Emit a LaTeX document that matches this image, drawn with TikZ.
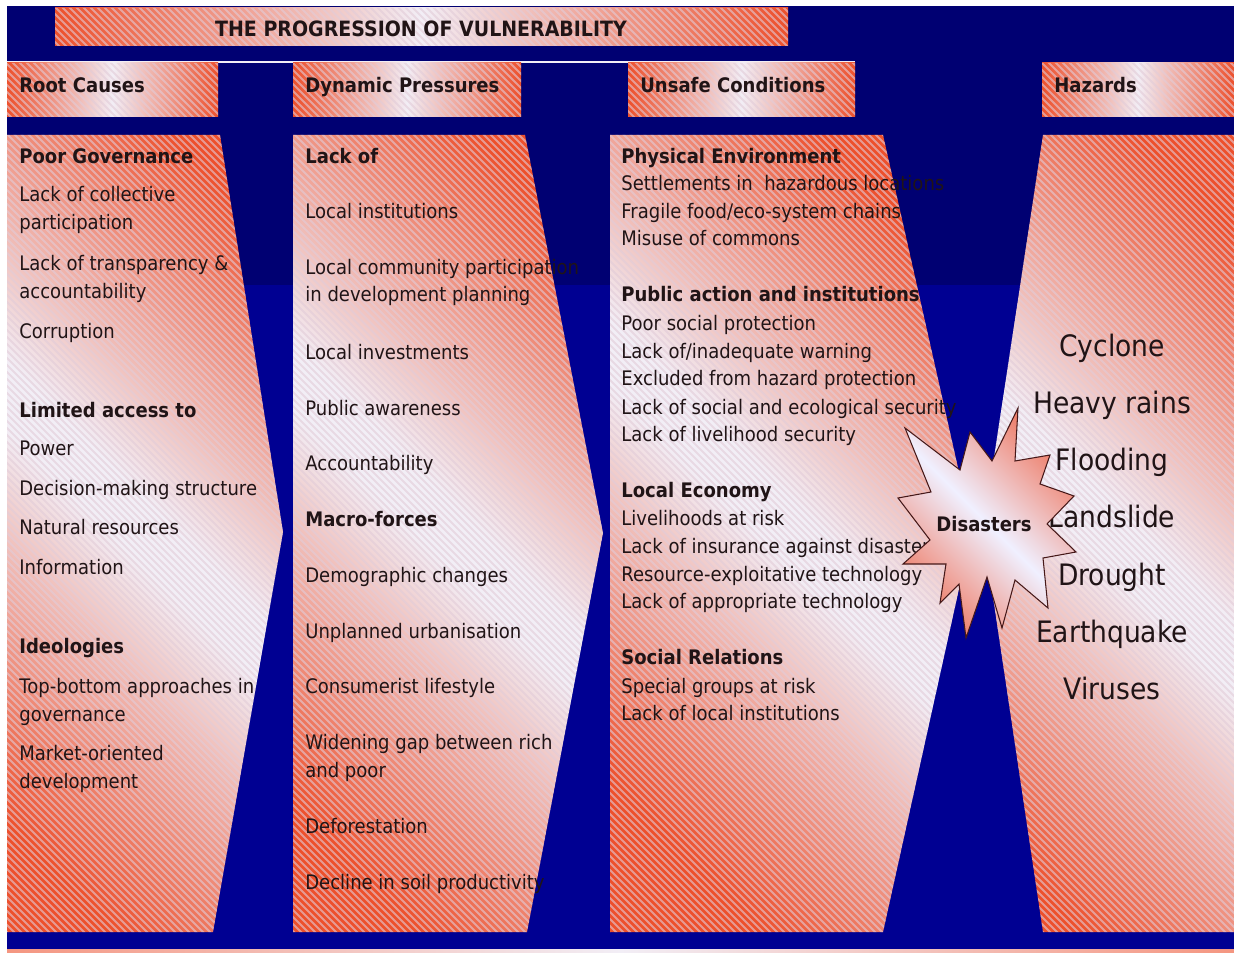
\documentclass[tikz,border=0pt]{standalone}
\usepackage{fontspec}
\setmainfont{DejaVu Sans}[FakeStretch=0.9]

\definecolor{navyA}{RGB}{0,0,114}
\definecolor{navyC}{RGB}{0,0,146}
\definecolor{hotred}{RGB}{237,80,44}
\definecolor{paleend}{RGB}{242,238,246}
\definecolor{stripecol}{RGB}{226,204,216}
\definecolor{ink}{RGB}{32,20,22}
\definecolor{starred}{RGB}{238,122,100}
\definecolor{starline}{RGB}{70,25,25}

% red - pale - red band, used diagonally on the panels
\pgfdeclareverticalshading{panelshade}{100bp}{color(0bp)=(hotred); color(31bp)=(hotred);
  color(48.5bp)=(paleend); color(51.5bp)=(paleend); color(69bp)=(hotred); color(100bp)=(hotred)}

% outlines of the panels, in pixel units (y grows downwards)
\def\shapeTitle{(55,8) rectangle (788,46)}
\def\shapeHa{(7,63) rectangle (218,117)}
\def\shapeHb{(293,63) rectangle (521,117)}
\def\shapeHc{(628,63) rectangle (855,117)}
\def\shapeHd{(1042,63) rectangle (1234,117)}
\def\colA{(7,135) -- (220,135) -- (283,532) -- (213,932) -- (7,932) -- cycle}
\def\colB{(293,135) -- (525,135) -- (603,533) -- (527,932) -- (293,932) -- cycle}
\def\colC{(610,135) -- (883,135) -- (972,530) -- (883,932) -- (610,932) -- cycle}
\def\colD{(1043,135) -- (1234,135) -- (1234,932) -- (1043,932) -- (983,530) -- cycle}

% a panel: clip to its outline and shade a square round its centre
\newcommand\panelfill[3]{%
  \begin{scope}
    \clip #1;
    \shade[shading=panelshade, shading angle=-45] (#2-400,#3-400) rectangle (#2+400,#3+400);
  \end{scope}}

\tikzset{
  bargrad/.style={left color=hotred, right color=hotred, middle color=paleend},
  stargrad/.style={top color=starred, bottom color=starred, middle color=white!94!blue, shading angle=-45},
  stripe/.style={stripecol, line width=1.1pt, opacity=0.6},
  bd/.style={font=\fontsize{11.4}{13}\selectfont, text=ink, inner sep=0pt, anchor=mid west},
  hd/.style={bd, font=\fontsize{11.4}{13}\selectfont\bfseries},
  haz/.style={font=\fontsize{16.8}{19}\selectfont, text=ink, inner sep=0pt, anchor=mid},
}

\begin{document}
\begin{tikzpicture}[x=0.02cm, y=-0.02cm]
\useasboundingbox (0,0) rectangle (1234,953);
\fill[white] (0,0) rectangle (1234,953);

% dark blue ground, a shade deeper in the upper part
\fill[navyA] (7,6) rectangle (1234,285);
\fill[navyC] (7,285) rectangle (1234,949);
\shade[left color=hotred!60!white, right color=hotred!60!white, middle color=paleend] (7,949.5) rectangle (1234,953);

% title bar, header bars and the four panels
\shade[bargrad] \shapeTitle;
\draw[paleend, line width=0.6pt] (7,62) -- (855,62);
\shade[bargrad] \shapeHa;
\shade[bargrad] \shapeHb;
\shade[bargrad] \shapeHc;
\shade[bargrad] \shapeHd;
\panelfill{\colA}{145}{533}
\panelfill{\colB}{448}{533}
\panelfill{\colC}{791}{533}
\panelfill{\colD}{1108}{533}

% diagonal hatching over all panels
\begin{scope}
  \clip \shapeTitle \shapeHa \shapeHb \shapeHc \shapeHd \colA \colB \colC \colD;
  \foreach \k in {-960,-953,...,1240} \draw[stripe] (\k,0) -- ++(960,960);
\end{scope}

% titles
\node[hd, anchor=mid, font=\fontsize{12}{14}\selectfont\bfseries] (title) at (421,32) {THE PROGRESSION OF VULNERABILITY};
\node[hd] (hRoot) at (19,88) {Root Causes};
\node[hd] (hDyn) at (305,88) {Dynamic Pressures};
\node[hd] (hUnsafe) at (640,88) {Unsafe Conditions};
\node[hd] (hHaz) at (1054,88) {Hazards};

% root causes
\foreach \s/\t/\y [count=\i] in {
  hd/Poor Governance/159, bd/Lack of collective/197, bd/participation/225,
  bd/Lack of transparency \&/266, bd/accountability/294, bd/Corruption/334,
  hd/Limited access to/413, bd/Power/451, bd/Decision-making structure/491,
  bd/Natural resources/530, bd/Information/570, hd/Ideologies/649,
  bd/Top-bottom approaches in/689, bd/governance/717, bd/Market-oriented/756,
  bd/development/784}
  \node[\s] (rc-\i) at (19,\y) {\t};

% dynamic pressures
\foreach \s/\t/\y [count=\i] in {
  hd/Lack of/159, bd/Local institutions/214, bd/Local community participation/270,
  bd/in development planning/297, bd/Local investments/355, bd/Public awareness/411,
  bd/Accountability/466, hd/Macro-forces/522, bd/Demographic changes/578,
  bd/Unplanned urbanisation/634, bd/Consumerist lifestyle/689,
  bd/Widening gap between rich/745, bd/and poor/773, bd/Deforestation/829,
  bd/Decline in soil productivity/885}
  \node[\s] (dp-\i) at (305,\y) {\t};

% unsafe conditions
\foreach \s/\t/\y [count=\i] in {
  hd/Physical Environment/159, bd/Settlements in~ hazardous locations/186,
  bd/{Fragile food/eco-system chains}/214, bd/Misuse of commons/241,
  hd/Public action and institutions/297, bd/Poor social protection/326,
  bd/{Lack of/inadequate warning}/354, bd/Excluded from hazard protection/381,
  bd/Lack of social and ecological security/410, bd/Lack of livelihood security/437,
  hd/Local Economy/493, bd/Livelihoods at risk/521,
  bd/Lack of insurance against disasters/549, bd/Resource-exploitative technology/577,
  bd/Lack of appropriate technology/604, hd/Social Relations/660,
  bd/Special groups at risk/689, bd/Lack of local institutions/716}
  \node[\s] (uc-\i) at (621,\y) {\t};

% hazards
\foreach \t/\y [count=\i] in {Cyclone/352, Heavy rains/409, Flooding/466,
  Landslide/523, Drought/581, Earthquake/638, Viruses/695}
  \node[haz] (hz-\i) at (1112,\y) {\t};

% burst where unsafe conditions meet the hazards
\shade[stargrad, draw=starline, line width=0.6pt]
  (905,428) -- (960,470) -- (970,432) -- (992,461) -- (1018,408) -- (1015,461)
  -- (1050,455) -- (1040,484) -- (1074,496) -- (1047,524) -- (1076,552)
  -- (1043,558) -- (1048,608) -- (1015,580) -- (1002,628) -- (987,577)
  -- (966,638) -- (959,584) -- (940,603) -- (946,564) -- (903,564)
  -- (930,540) -- (898,498) -- (931,492) -- cycle;
\node[hd, anchor=mid] (dis) at (984,527) {Disasters};
\end{tikzpicture}
\end{document}
